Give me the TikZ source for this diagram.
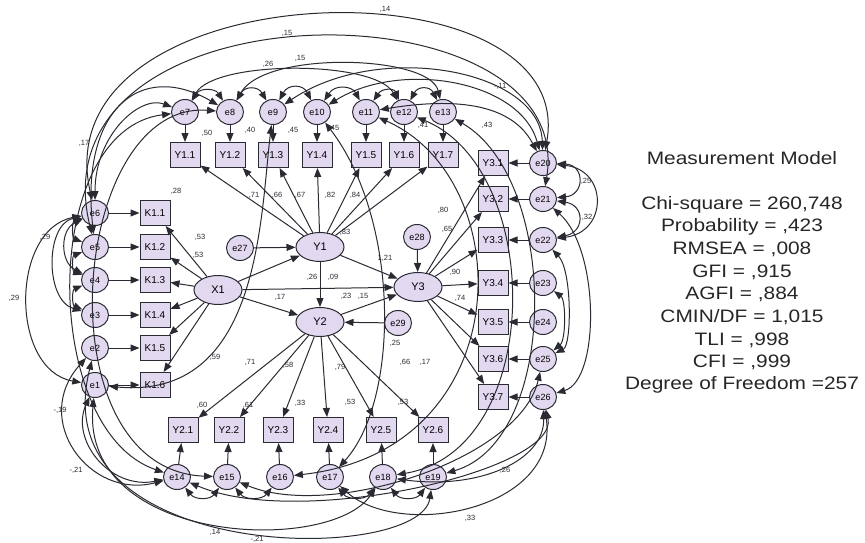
\documentclass[tikz,border=0pt]{standalone}
\usepackage{fontspec}
\setmainfont{Liberation Sans}
\usepackage{graphicx}
\usetikzlibrary{shapes.geometric,arrows.meta}
\definecolor{lav}{HTML}{E2D8F0}
\definecolor{edge}{HTML}{2A2A33}
\begin{document}
\begin{tikzpicture}[x=1pt,y=-1pt,
  lat/.style={ellipse,draw=edge,fill=lav,line width=1pt,minimum width=48pt,minimum height=29pt,inner sep=0pt,font=\fontsize{11}{11}\selectfont},
  obs/.style={rectangle,draw=edge,fill=lav,line width=1pt,minimum width=30pt,minimum height=25pt,inner sep=0pt,font=\fontsize{10}{10}\selectfont},
  err/.style={ellipse,draw=edge,fill=lav,line width=1pt,minimum width=27pt,minimum height=25pt,inner sep=0pt,font=\fontsize{9}{9}\selectfont},
  pth/.style={draw=edge,line width=1pt,-{Triangle[length=9pt,width=7pt]}},
  cov/.style={draw=edge,line width=1pt,{Triangle[length=9pt,width=7pt]}-{Triangle[length=9pt,width=7pt]}},
  lb/.style={font=\fontsize{7.5}{8}\selectfont,inner sep=0.5pt,text=edge},
  st/.style={font=\fontsize{18}{20}\selectfont,text=black!85,inner sep=0pt}]
\useasboundingbox (0,0) rectangle (865,543);

% ---------- nodes ----------
\foreach \i/\px in {1/185,2/230,3/273,4/317,5/366,6/404,7/443}{
  \pgfmathtruncatemacro\en{\i+6}
  \node[err] (e\en) at (\px,112) {e\en};
  \node[obs] (ya\i) at (\px,155) {Y1.\i};
}
\foreach \i/\py in {1/213,2/247,3/280,4/315,5/348,6/385}{
  \pgfmathtruncatemacro\en{7-\i}
  \node[err] (e\en) at (95,\py) {e\en};
  \node[obs] (k\i) at (155,\py) {K1.\i};
}
\foreach \i/\py in {1/163,2/199,3/240,4/283,5/322,6/359,7/397}{
  \pgfmathtruncatemacro\en{\i+19}
  \node[err] (e\en) at (543,\py) {e\en};
  \node[obs] (yc\i) at (493,\py) {Y3.\i};
}
\foreach \i/\px/\ex in {1/183/177,2/229/227,3/278/280,4/328/330,5/381/383,6/433/433}{
  \pgfmathtruncatemacro\en{\i+13}
  \node[obs] (yb\i) at (\px,430) {Y2.\i};
  \node[err] (e\en) at (\ex,477) {e\en};
}
\node[lat] (X1) at (218,290) {X1};
\node[lat] (Y1) at (320,247) {Y1};
\node[lat] (Y2) at (320,322) {Y2};
\node[lat] (Y3) at (418,287) {Y3};
\node[err] (e27) at (240,248) {e27};
\node[err] (e28) at (417,237) {e28};
\node[err] (e29) at (398,323) {e29};

% ---------- directed paths ----------
\foreach \i in {1,...,7}{
  \pgfmathtruncatemacro\en{\i+6}
  \draw[pth] (e\en) -- (ya\i);
  \draw[pth] (Y1) -- (ya\i);
}
\foreach \i in {1,...,6}{
  \pgfmathtruncatemacro\en{7-\i}
  \draw[pth] (e\en) -- (k\i);
  \draw[pth] (X1) -- (k\i);
}
\foreach \i in {1,...,7}{
  \pgfmathtruncatemacro\en{\i+19}
  \draw[pth] (e\en) -- (yc\i);
  \draw[pth] (Y3) -- (yc\i);
}
\foreach \i in {1,...,6}{
  \pgfmathtruncatemacro\en{\i+13}
  \draw[pth] (e\en) -- (yb\i);
  \draw[pth] (Y2) -- (yb\i);
}
\draw[pth] (X1) -- (Y1);
\draw[pth] (X1) -- (Y2);
\draw[pth] (X1) -- (Y3);
\draw[pth] (Y1) -- (Y2);
\draw[pth] (Y1) -- (Y3);
\draw[pth] (Y2) -- (Y3);
\draw[pth] (e27) -- (Y1);
\draw[pth] (e28) -- (Y3);
\draw[pth] (e29) -- (Y2);

% ---------- covariances ----------
\draw[cov] (e6) .. controls (40,-30) and (580,-45) .. (e20);
\draw[cov] (e5) .. controls (30,-20) and (580,-20) .. (e21);
\draw[cov] (e5) .. controls (80,110) and (140,60) .. (e8);
\draw[cov] (e6) .. controls (95,135) and (140,95) .. (e7);
\draw[cov] (e7) .. controls (215,60) and (375,60) .. (e12);
\draw[cov] (e8) .. controls (265,50) and (430,55) .. (e13);
\draw[cov] (e7) .. controls (200,88) and (215,88) .. (e8);
\draw[cov] (e8) .. controls (245,86) and (258,86) .. (e9);
\draw[cov] (e9) .. controls (288,84) and (303,84) .. (e10);
\draw[cov] (e10) .. controls (335,84) and (352,86) .. (e11);
\draw[cov] (e11) .. controls (382,88) and (394,88) .. (e12);
\draw[cov] (e12) .. controls (418,86) and (430,86) .. (e13);
\draw[cov] (e9) .. controls (380,40) and (540,70) .. (e20);
\draw[cov] (e10) .. controls (400,60) and (520,80) .. (e20);
\draw[cov] (e11) .. controls (470,95) and (515,110) .. (e20);
\draw[cov] (e20) .. controls (585,165) and (585,195) .. (e21);
\draw[cov] (e21) .. controls (585,205) and (585,232) .. (e22);
\draw[cov] (e20) .. controls (608,170) and (608,232) .. (e22);
\draw[cov] (e21) .. controls (600,250) and (600,380) .. (e26);
\draw[cov] (e22) .. controls (572,270) and (572,345) .. (e25);
\draw[cov] (e23) .. controls (566,300) and (566,340) .. (e25);
\draw[cov] (e26) .. controls (545,460) and (480,490) .. (e18);
\draw[cov] (e26) .. controls (560,510) and (400,540) .. (e17);
\draw[cov] (e1) .. controls (80,545) and (330,555) .. (e18);
\draw[cov] (e2) .. controls (40,565) and (420,565) .. (e19);
\draw[cov] (e1) .. controls (70,440) and (110,490) .. (e14);
\draw[cov] (e2) .. controls (30,420) and (90,500) .. (e14);
\draw[cov] (e6) .. controls (10,230) and (10,370) .. (e1);
\draw[cov] (e6) .. controls (45,225) and (45,300) .. (e3);
\draw[cov] (e6) .. controls (72,222) and (72,238) .. (e5);
\draw[cov] (e5) .. controls (72,256) and (72,271) .. (e4);
\draw[cov] (e4) .. controls (72,290) and (72,305) .. (e3);
\draw[cov] (e6) .. controls (60,230) and (60,262) .. (e4);
\draw[cov] (e7) .. controls (40,130) and (40,430) .. (e14);
\draw[cov] (e8) .. controls (70,100) and (40,470) .. (e15);
\draw[cov] (e1) .. controls (260,400) and (260,220) .. (e9);
\draw[cov] (e10) .. controls (400,220) and (400,400) .. (e17);
\draw[cov] (e13) .. controls (560,180) and (560,440) .. (e19);
\draw[cov] (e12) .. controls (545,170) and (545,450) .. (e18);
\draw[cov] (e11) .. controls (520,180) and (520,450) .. (e16);
\draw[cov] (e15) .. controls (330,520) and (520,460) .. (e25);
\draw[cov] (e14) .. controls (300,530) and (560,470) .. (e26);
\draw[cov] (e14) .. controls (195,500) and (210,500) .. (e15);
\draw[cov] (e15) .. controls (245,500) and (262,500) .. (e16);
\draw[cov] (e17) .. controls (348,500) and (365,500) .. (e18);
\draw[cov] (e18) .. controls (400,500) and (416,500) .. (e19);

% ---------- labels ----------
\node[lb] at (385,9) {,14};
\node[lb] at (287,33) {,15};
\node[lb] at (84,143) {,17};
\node[lb] at (268,64) {,26};
\node[lb] at (300,58) {,15};
\node[lb] at (500,86) {-,11};
\node[lb] at (586,181) {,25};
\node[lb] at (587,217) {,32};
\node[lb] at (505,470) {,26};
\node[lb] at (470,518) {,33};
\node[lb] at (215,532) {,14};
\node[lb] at (257,539) {-,21};
\node[lb] at (60,410) {-,19};
\node[lb] at (76,470) {-,21};
\node[lb] at (14,298) {,29};
\node[lb] at (45,237) {,29};
\node[lb] at (207,133) {,50};
\node[lb] at (250,130) {,40};
\node[lb] at (293,130) {,45};
\node[lb] at (334,128) {,45};
\node[lb] at (423,125) {,41};
\node[lb] at (487,125) {,43};
\node[lb] at (176,191) {,28};
\node[lb] at (254,195) {,71};
\node[lb] at (277,195) {,66};
\node[lb] at (300,195) {,67};
\node[lb] at (330,195) {,82};
\node[lb] at (355,195) {,84};
\node[lb] at (345,232) {,83};
\node[lb] at (200,237) {,53};
\node[lb] at (198,255) {,53};
\node[lb] at (312,277) {,26};
\node[lb] at (333,277) {,09};
\node[lb] at (280,297) {,17};
\node[lb] at (346,296) {,23};
\node[lb] at (363,296) {,15};
\node[lb] at (385,258) {1,21};
\node[lb] at (443,210) {,80};
\node[lb] at (447,229) {,65};
\node[lb] at (455,272) {,90};
\node[lb] at (460,298) {,74};
\node[lb] at (215,357) {,59};
\node[lb] at (250,362) {,71};
\node[lb] at (288,365) {,58};
\node[lb] at (340,367) {,79};
\node[lb] at (395,343) {,25};
\node[lb] at (405,362) {,66};
\node[lb] at (425,362) {,17};
\node[lb] at (202,405) {,60};
\node[lb] at (248,405) {,61};
\node[lb] at (300,403) {,33};
\node[lb] at (350,402) {,53};
\node[lb] at (403,402) {,53};

% ---------- statistics ----------
\node[st] (s0) at (742,158) {\scalebox{1.16}[1]{Measurement Model}};
\node[st] (s1) at (742,205) {\scalebox{1.16}[1]{Chi-square = 260,748}};
\node[st] (s2) at (742,227) {\scalebox{1.16}[1]{Probability = ,423}};
\node[st] (s3) at (742,249) {\scalebox{1.16}[1]{RMSEA = ,008}};
\node[st] (s4) at (742,272) {\scalebox{1.16}[1]{GFI = ,915}};
\node[st] (s5) at (742,294) {\scalebox{1.16}[1]{AGFI = ,884}};
\node[st] (s6) at (742,317) {\scalebox{1.16}[1]{CMIN/DF = 1,015}};
\node[st] (s7) at (742,340) {\scalebox{1.16}[1]{TLI = ,998}};
\node[st] (s8) at (742,362) {\scalebox{1.16}[1]{CFI = ,999}};
\node[st] (s9) at (742,385) {\scalebox{1.16}[1]{Degree of Freedom =257}};
\end{tikzpicture}
\end{document}
